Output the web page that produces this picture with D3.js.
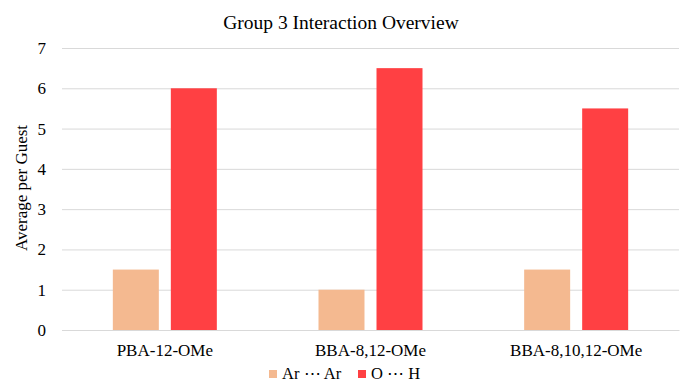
<!DOCTYPE html>
<html>
<head>
<meta charset="utf-8">
<script src="https://cdn.jsdelivr.net/npm/d3@7/dist/d3.min.js"></script>
<style>
  html, body { margin: 0; padding: 0; background: #fff; }
  text { font-family: "Liberation Serif", "Times New Roman", serif; fill: #000; }
</style>
</head>
<body>
<svg id="chart" width="682" height="383"></svg>
<script>
const title = "Group 3 Interaction Overview";
const yLabel = "Average per Guest";
const categories = ["PBA-12-OMe", "BBA-8,12-OMe", "BBA-8,10,12-OMe"];
const seriesNames = ["Ar \u22EF Ar", "O \u22EF H"];
const seriesColors = ["#F4B990", "#FF4043"];
const arArValues = [1.5, 1, 1.5];
const ohValues = [6, 6.5, 5.5];
const yTicks = [0, 1, 2, 3, 4, 5, 6, 7];

const seriesValues = [arArValues, ohValues];
const svg = d3.select("#chart");
const m = { left: 62, right: 679, top: 48, bottom: 330 };

const x0 = d3.scaleBand().domain(categories).range([m.left, m.right]).padding(0);
const groupW = 104;
const x1 = d3.scaleBand().domain(d3.range(seriesNames.length)).range([0, groupW]).paddingInner(0.207).paddingOuter(0);
const y = d3.scaleLinear().domain([0, 7]).range([m.bottom, m.top]);

// gridlines
const yAxis = d3.axisLeft(y).tickValues(yTicks).tickSize(-(m.right - m.left)).tickFormat(d3.format("d")).tickPadding(10);
const gy = svg.append("g").attr("transform", `translate(${m.left},0)`).call(yAxis);
gy.select(".domain").remove();
gy.selectAll(".tick line").attr("stroke", "#d9d9d9").attr("stroke-width", 1);
gy.selectAll(".tick text").attr("font-size", 17).attr("font-family", "Liberation Serif").attr("fill", "#000").attr("x", -16);

// bars
const groups = svg.append("g").selectAll("g").data(categories).join("g")
  .attr("transform", d => `translate(${x0(d) + (x0.bandwidth() - groupW) / 2},0)`);
groups.selectAll("rect")
  .data((d, i) => seriesValues.map((vals, s) => ({ s, v: vals[i] })))
  .join("rect")
  .attr("x", d => x1(d.s))
  .attr("width", x1.bandwidth())
  .attr("y", d => y(d.v))
  .attr("height", d => y(0) - y(d.v))
  .attr("fill", d => seriesColors[d.s]);

// x axis
const xAxis = d3.axisBottom(x0).tickSize(0).tickPadding(14);
const gx = svg.append("g").attr("transform", `translate(0,${m.bottom})`).call(xAxis);
gx.select(".domain").attr("stroke", "#d9d9d9");
gx.selectAll(".tick text").attr("font-size", 17).attr("font-family", "Liberation Serif").attr("fill", "#000");

// title
svg.append("text").attr("x", 341).attr("y", 29).attr("text-anchor", "middle")
  .attr("font-size", 19.5).text(title);

// y label
svg.append("text").attr("transform", `translate(27,188) rotate(-90)`)
  .attr("text-anchor", "middle").attr("font-size", 17).text(yLabel);

// legend
const legendX = [269, 358];
const lg = svg.append("g").selectAll("g").data(seriesNames).join("g")
  .attr("transform", (d, i) => `translate(${legendX[i]},374)`);
lg.append("rect").attr("x", 0).attr("y", -4).attr("width", 8).attr("height", 8)
  .attr("fill", (d, i) => seriesColors[i]);
lg.append("text").attr("x", 13).attr("y", 5).attr("font-size", 16.5).text(d => d);
</script>
</body>
</html>
